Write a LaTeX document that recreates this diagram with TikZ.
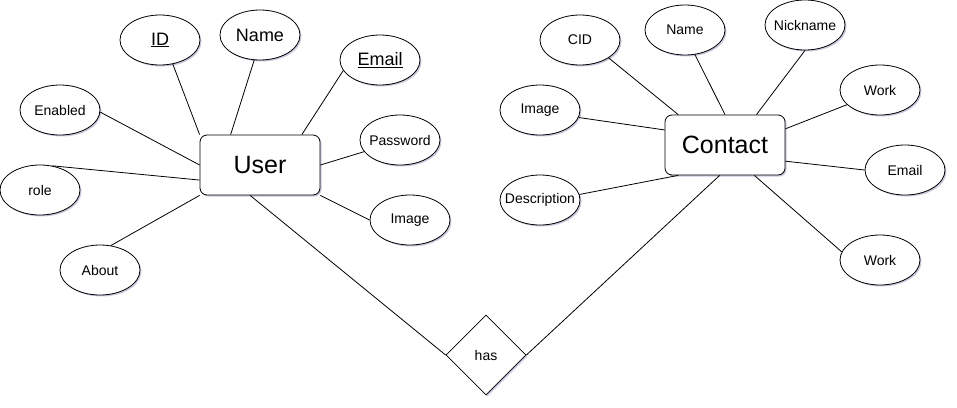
\documentclass[tikz,border=0pt]{standalone}
\usepackage{fontspec}
\setmainfont{Liberation Sans}
\usetikzlibrary{shapes.geometric,shadows}

\begin{document}
\begin{tikzpicture}[x=1pt, y=-1pt,
    shade/.style={drop shadow={shadow xshift=1.5pt, shadow yshift=-1.5pt, opacity=0.35, fill=blue!25!gray}},
    attr/.style={draw, ellipse, line width=0.8pt, fill=white, shade, minimum width=80pt, minimum height=50pt, inner sep=0pt, font=\fontsize{14}{16}\selectfont},
    wideattr/.style={attr, inner xsep=-12pt},
    bigattr/.style={attr, font=\fontsize{18}{21}\selectfont},
    entity/.style={draw, rectangle, rounded corners=7pt, line width=0.8pt, fill=white, shade, minimum width=120pt, minimum height=60pt, font=\fontsize{25}{30}\selectfont},
    rel/.style={draw, diamond, line width=0.8pt, fill=white, shade, minimum width=80pt, minimum height=80pt, inner sep=0pt, font=\fontsize{14}{16}\selectfont},
    link/.style={line width=0.8pt}]
    \useasboundingbox (0, 0) rectangle (957, 407) ;

    % entities and relation
    \node[entity] (user) at (260, 165) {User} ;
    \node[entity] (contact) at (725, 145) {Contact} ;
    \node[rel] (has) at (486, 355) {has} ;

    % user attributes
    \node[bigattr] (uid) at (160, 40) {\underline{ID}} ;
    \node[bigattr] (uname) at (260, 35) {Name} ;
    \node[bigattr] (uemail) at (380, 60) {\underline{Email}} ;
    \node[attr] (uenabled) at (60, 110) {Enabled} ;
    \node[wideattr] (upassword) at (400, 140) {Password} ;
    \node[attr] (urole) at (40, 190) {role} ;
    \node[attr] (uimage) at (410, 220) {Image} ;
    \node[attr] (uabout) at (100, 270) {About} ;

    % contact attributes
    \node[attr] (ccid) at (580, 40) {CID} ;
    \node[attr] (cname) at (685, 30) {Name} ;
    \node[wideattr] (cnick) at (805, 25) {Nickname} ;
    \node[attr] (cwork) at (880, 90) {Work} ;
    \node[attr] (cimage) at (540, 110) {Image} ;
    \node[attr] (cemail) at (905, 170) {Email} ;
    \node[wideattr] (cdesc) at (540, 200) {Description} ;
    \node[attr] (cwork2) at (880, 260) {Work} ;

    % user links
    \draw[link] (uid.-62) -- (user.north west) ;
    \draw[link] (uname.257) -- (user.134) ;
    \draw[link] (uemail.196) -- (user.36) ;
    \draw[link] (uenabled.-3) -- (user.west) ;
    \draw[link] (urole.63) -- (user.194) ;
    \draw[link] (uabout.66) -- (user.south west) ;
    \draw[link] (upassword.198) -- (user.east) ;
    \draw[link] (uimage.west) -- (user.south east) ;

    % contact links
    \draw[link] (ccid.-32) -- (contact.147) ;
    \draw[link] (cname.-68) -- (contact.north) ;
    \draw[link] (cnick.south) -- (contact.44) ;
    \draw[link] (cwork.204) -- (contact.15) ;
    \draw[link] (cimage.-11) -- (contact.166) ;
    \draw[link] (cemail.west) -- (contact.-15) ;
    \draw[link] (cdesc.8) -- (contact.213) ;
    \draw[link] (cwork2.168) -- (contact.-46) ;

    % relation
    \draw[link] (user.252) -- (has.west) ;
    \draw[link] (contact.260) -- (has.east) ;
  \end{tikzpicture}
\end{document}
